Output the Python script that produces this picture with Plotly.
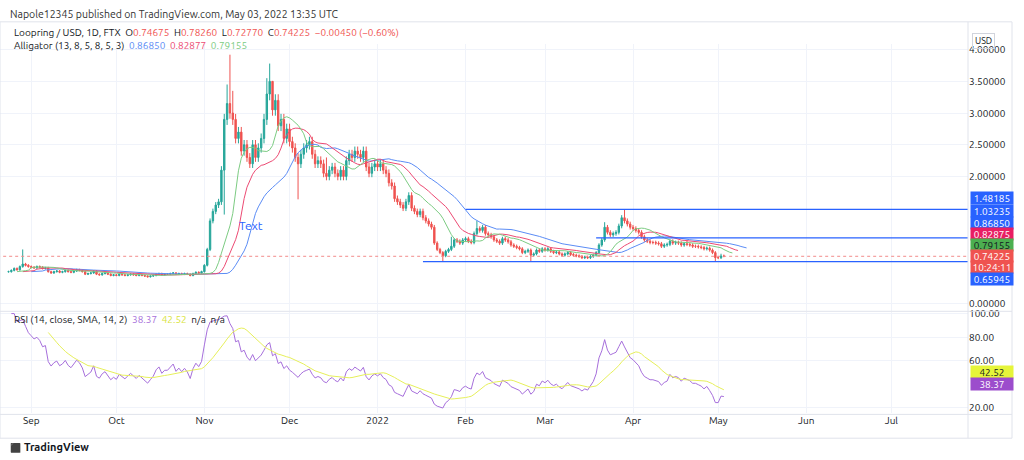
import pandas as pd
import numpy as np
import plotly.graph_objects as go
from plotly.subplots import make_subplots

# daily closes, Aug 24 2021 -> May 03 2022
closes_aug = [0.50, 0.52, 0.55, 0.53, 0.58, 0.62, 0.60, 0.58]
closes_sep = [0.57, 0.56, 0.58, 0.57, 0.55, 0.56, 0.50, 0.48, 0.50, 0.51, 0.49, 0.50, 0.52, 0.50, 0.49,
              0.51, 0.53, 0.52, 0.50, 0.46, 0.47, 0.48, 0.51, 0.46, 0.45, 0.47, 0.48, 0.46, 0.44, 0.45]
closes_oct = [0.44, 0.46, 0.45, 0.44, 0.45, 0.46, 0.45, 0.44, 0.45, 0.44, 0.43, 0.42, 0.43, 0.44, 0.46,
              0.47, 0.45, 0.46, 0.46, 0.47, 0.48, 0.46, 0.47, 0.46, 0.47, 0.46, 0.44, 0.47, 0.49, 0.48, 0.50]
closes_nov = [0.60, 0.85, 1.30, 1.45, 1.55, 1.60, 2.10, 2.90, 3.15, 3.00, 2.90, 2.60, 2.70, 2.40, 2.50,
              2.30, 2.20, 2.50, 2.30, 2.45, 2.60, 2.90, 3.30, 3.50, 3.05, 3.20, 2.80, 2.90, 2.60, 2.75]
closes_dec = [2.55, 2.45, 2.30, 2.20, 2.35, 2.45, 2.50, 2.55, 2.35, 2.20, 2.25, 2.20, 2.05, 2.00, 2.10,
              2.15, 2.05, 2.00, 2.10, 2.00, 2.25, 2.35, 2.30, 2.40, 2.35, 2.30, 2.40, 2.15, 2.05, 2.15, 2.20]
closes_jan = [2.15, 2.20, 2.10, 2.05, 1.90, 1.85, 1.65, 1.60, 1.55, 1.50, 1.60, 1.70, 1.50, 1.45, 1.40,
              1.45, 1.35, 1.30, 1.25, 1.20, 0.95, 0.85, 0.80, 0.75, 0.82, 0.85, 0.90, 1.00, 0.98, 0.95, 1.00]
closes_feb = [1.02, 0.98, 0.96, 1.10, 1.18, 1.15, 1.20, 1.10, 1.08, 1.05, 1.00, 0.98, 0.95, 1.02, 1.00,
              0.97, 0.92, 0.90, 0.88, 0.86, 0.80, 0.82, 0.84, 0.76, 0.78, 0.84, 0.82, 0.86]
closes_mar = [0.84, 0.86, 0.82, 0.80, 0.81, 0.78, 0.76, 0.78, 0.80, 0.77, 0.76, 0.75, 0.74, 0.72, 0.73,
              0.72, 0.74, 0.76, 0.80, 0.92, 1.00, 1.20, 1.12, 1.08, 1.10, 1.12, 1.22, 1.35, 1.30, 1.25, 1.20]
closes_apr = [1.18, 1.15, 1.12, 1.05, 1.00, 0.98, 0.96, 0.96, 0.95, 0.94, 0.90, 0.92, 0.93, 0.98, 0.95,
              0.96, 0.95, 0.92, 0.94, 0.93, 0.92, 0.90, 0.90, 0.89, 0.88, 0.86, 0.87, 0.84, 0.80, 0.72]
closes_may = [0.72, 0.74675, 0.74225]

# notable wick extremes (date -> price)
spike_highs = {"2021-08-29": 0.85, "2021-11-09": 3.45, "2021-11-10": 3.92, "2021-11-11": 3.35,
               "2021-11-23": 3.55, "2021-11-24": 3.78, "2021-11-25": 3.40, "2021-12-14": 2.30,
               "2022-01-27": 1.05, "2022-02-05": 1.30, "2022-03-22": 1.28, "2022-03-29": 1.48,
               "2022-04-20": 1.00, "2022-05-02": 0.7826}
spike_lows = {"2021-12-04": 1.64, "2021-11-08": 1.40, "2022-01-24": 0.66, "2022-02-24": 0.66,
              "2022-04-30": 0.66, "2022-05-03": 0.7277}

closes = (closes_aug + closes_sep + closes_oct + closes_nov + closes_dec + closes_jan
          + closes_feb + closes_mar + closes_apr + closes_may)
dates = pd.date_range("2021-08-24", periods=len(closes), freq="D")

df = pd.DataFrame({"date": dates, "close": closes})
df["open"] = df["close"].shift(1).fillna(df["close"].iloc[0])
df.loc[df.index[-1], "open"] = 0.74675
body_hi = df[["open", "close"]].max(axis=1)
body_lo = df[["open", "close"]].min(axis=1)
df["high"] = body_hi * 1.03
df["low"] = body_lo * 0.97
for d, v in spike_highs.items():
    df.loc[df["date"] == pd.Timestamp(d), "high"] = v
for d, v in spike_lows.items():
    df.loc[df["date"] == pd.Timestamp(d), "low"] = v


def smma(s, n):
    return s.ewm(alpha=1 / n, adjust=False).mean()


median = (df["high"] + df["low"]) / 2
future = pd.date_range(dates[0], periods=len(closes) + 8, freq="D")


def shifted(series, shift):
    return future[shift:shift + len(series)], series.values


jaw_x, jaw_y = shifted(smma(median, 13), 8)
teeth_x, teeth_y = shifted(smma(median, 8), 5)
lips_x, lips_y = shifted(smma(median, 5), 3)

# RSI 14 + SMA 14
delta = df["close"].diff()
gain = delta.clip(lower=0).ewm(alpha=1 / 14, adjust=False).mean()
loss = (-delta.clip(upper=0)).ewm(alpha=1 / 14, adjust=False).mean()
rsi = 100 - 100 / (1 + gain / loss)
rsi_sma = rsi.rolling(14).mean()

W, H = 1024, 460
plot_right = 968 / W

fig = make_subplots(rows=2, cols=1, shared_xaxes=True)
fig.add_trace(go.Candlestick(
    x=df["date"], open=df["open"], high=df["high"], low=df["low"], close=df["close"],
    increasing=dict(line=dict(color="#26a69a", width=1), fillcolor="#26a69a"),
    decreasing=dict(line=dict(color="#ef5350", width=1), fillcolor="#ef5350"),
    whiskerwidth=0, showlegend=False, hoverinfo="skip"), row=1, col=1)
fig.add_trace(go.Scatter(x=jaw_x, y=jaw_y, mode="lines", line=dict(color="#5b8cf5", width=1)), row=1, col=1)
fig.add_trace(go.Scatter(x=teeth_x, y=teeth_y, mode="lines", line=dict(color="#ec4a73", width=1)), row=1, col=1)
fig.add_trace(go.Scatter(x=lips_x, y=lips_y, mode="lines", line=dict(color="#7ccb82", width=1)), row=1, col=1)

x_end = "2022-07-28"
levels = [("2022-02-01", 1.48185), ("2022-03-19", 1.03235), ("2022-01-17", 0.65945)]
for start, lvl in levels:
    fig.add_trace(go.Scatter(x=[start, x_end], y=[lvl, lvl], mode="lines",
                             line=dict(color="#2962ff", width=1.2)), row=1, col=1)
fig.add_trace(go.Scatter(x=["2021-08-20", x_end], y=[0.74225, 0.74225], mode="lines",
                         line=dict(color="#f28b8a", width=1, dash="dot")), row=1, col=1)

# RSI panel
fig.add_hrect(y0=30, y1=70, fillcolor="rgba(126,87,194,0.1)", line_width=0, row=2, col=1)
for lvl in [70, 50, 30]:
    fig.add_hline(y=lvl, line=dict(color="#787b86", width=1, dash="dash"), row=2, col=1)
fig.add_trace(go.Scatter(x=df["date"], y=rsi, mode="lines", line=dict(color="#a66fdb", width=1)), row=2, col=1)
fig.add_trace(go.Scatter(x=df["date"], y=rsi_sma, mode="lines", line=dict(color="#e6ef5a", width=1)), row=2, col=1)

month_ticks = ["2021-09-01", "2021-10-01", "2021-11-01", "2021-12-01", "2022-01-01", "2022-02-01",
               "2022-03-01", "2022-04-01", "2022-05-01", "2022-06-01", "2022-07-01"]
month_labels = ["Sep", "Oct", "Nov", "Dec", "2022", "Feb", "Mar", "Apr", "May", "Jun", "Jul"]

def py(px):
    return 1 - px / H

axis_common = dict(showline=False, zeroline=False, gridcolor="#f0f3fa", tickfont=dict(size=10, color="#131722"))
fig.update_xaxes(range=["2021-08-21", x_end], tickvals=month_ticks, ticktext=month_labels,
                 rangeslider_visible=False, domain=[0, plot_right], **axis_common)
fig.update_xaxes(showticklabels=False, row=1, col=1)
fig.update_yaxes(side="right", **axis_common)
fig.update_yaxes(domain=[py(310), py(40)], range=[-0.125, 4.094],
                 tickvals=[0, 2, 2.5, 3, 3.5, 4], ticktext=["0.00000", "2.00000", "2.50000", "3.00000", "3.50000", "4.00000"],
                 row=1, col=1)
fig.update_yaxes(domain=[py(413), py(311)], range=[14.9, 101.1],
                 tickvals=[20, 60, 80, 100], ticktext=["20.00", "60.00", "80.00", "100.00"], row=2, col=1)

ann = []
font = "Ubuntu, Roboto, Arial"
ann.append(dict(x=8 / W, y=py(10), text="Napole12345 published on TradingView.com, May 03, 2022 13:35 UTC",
                font=dict(size=10.5, color="#333")))
ann.append(dict(x=12 / W, y=py(29), text="Loopring / USD, 1D, FTX  O<span style='color:#ef5350'>0.74675</span>  H<span style='color:#ef5350'>0.78260</span>  L<span style='color:#ef5350'>0.72770</span>  C<span style='color:#ef5350'>0.74225</span>  <span style='color:#ef5350'>−0.00450 (−0.60%)</span>",
                font=dict(size=10, color="#131722")))
ann.append(dict(x=12 / W, y=py(42), text="Alligator (13, 8, 5, 8, 5, 3)  <span style='color:#5b8cf5'>0.86850</span>  <span style='color:#ec4a73'>0.82877</span>  <span style='color:#7ccb82'>0.79155</span>",
                font=dict(size=10, color="#131722")))
ann.append(dict(x=12 / W, y=py(318), text="RSI (14, close, SMA, 14, 2)  <span style='color:#a66fdb'>38.37</span>  <span style='color:#d8e33a'>42.52</span>  n/a  n/a",
                font=dict(size=10, color="#131722")))
ann.append(dict(x=237 / W, y=py(223), text="Text", font=dict(size=12, color="#2962ff")))
ann.append(dict(x=22 / W, y=py(447), text="<b>TradingView</b>", font=dict(size=11, color="#131722")))
ann.append(dict(x=8 / W, y=py(447), text="<b>⬛</b>", font=dict(size=9, color="#131722")))
for a in ann:
    a.update(xref="paper", yref="paper", xanchor="left", yanchor="middle", showarrow=False)

labels = [(196, "1.48185", "#2962ff", "white"), (209, "1.03235", "#2962ff", "white"),
          (221, "0.86850", "#2962ff", "white"), (232, "0.82875", "#e91e63", "white"),
          (243, "0.79155", "#4caf50", "#131722"), (254, "0.74225", "#ef5350", "white"),
          (265, "10:24:11", "#ef5350", "white"), (277, "0.65945", "#2962ff", "white"),
          (371, "42.52", "#e6f53a", "#131722"), (383, "38.37", "#9c4dcc", "white")]
for ypx, txt, bg, fg in labels:
    ann.append(dict(x=970 / W, y=py(ypx), text=txt, xref="paper", yref="paper", xanchor="left",
                    yanchor="middle", showarrow=False, bgcolor=bg, font=dict(size=10, color=fg),
                    width=40, height=10, borderpad=1))
ann.append(dict(x=995 / W, y=py(29), text="USD", xref="paper", yref="paper", showarrow=False,
                font=dict(size=9, color="#131722"), bordercolor="#d1d4dc", borderwidth=1, borderpad=2))

shapes = [
    dict(type="rect", xref="paper", yref="paper", x0=0, x1=1012 / W, y0=py(438), y1=py(18),
         line=dict(color="#e0e3eb", width=1)),
    dict(type="line", xref="paper", yref="paper", x0=0, x1=1012 / W, y0=py(310), y1=py(310),
         line=dict(color="#e0e3eb", width=1)),
    dict(type="line", xref="paper", yref="paper", x0=0, x1=1012 / W, y0=py(414), y1=py(414),
         line=dict(color="#e0e3eb", width=1)),
    dict(type="line", xref="paper", yref="paper", x0=plot_right, x1=plot_right, y0=py(438), y1=py(18),
         line=dict(color="#e0e3eb", width=1)),
]

fig.update_layout(width=W, height=H, margin=dict(l=0, r=0, t=0, b=0), showlegend=False,
                  paper_bgcolor="white", plot_bgcolor="white", font=dict(family=font),
                  annotations=ann, shapes=list(fig.layout.shapes) + shapes)
fig.write_html("out.html", config={"displayModeBar": False},
               post_script="document.body.style.margin='0';")
